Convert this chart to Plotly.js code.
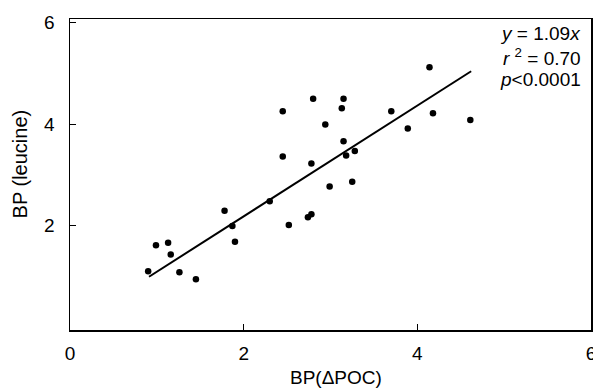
<!DOCTYPE html>
<html>
<head>
<meta charset="utf-8">
<script src="https://cdn.plot.ly/plotly-3.0.1.min.js"></script>
<style>html,body{margin:0;padding:0;background:#fff}#chart{width:593px;height:390px}</style>
</head>
<body>
<div id="chart"></div>
<script>
// BP(ΔPOC) values (x) and BP(leucine) values (y)
const bpPOC = [0.90, 0.99, 1.13, 1.16, 1.26, 1.45, 1.78, 1.87, 1.90, 2.30, 2.45, 2.45, 2.52, 2.74, 2.78, 2.78, 2.80, 2.94, 2.99, 3.13, 3.15, 3.15, 3.18, 3.25, 3.28, 3.70, 3.89, 4.14, 4.18, 4.61];
const bpLeucine = [1.10, 1.61, 1.66, 1.43, 1.08, 0.94, 2.29, 1.99, 1.68, 2.48, 4.25, 3.36, 2.01, 2.16, 2.22, 3.22, 4.50, 3.99, 2.77, 4.31, 4.50, 3.66, 3.38, 2.86, 3.47, 4.25, 3.91, 5.12, 4.21, 4.08];
// Regression line y = 1.09x, endpoints as drawn
const fitX = [0.91, 4.62];
const fitY = [0.99, 5.04];
const xTicks = [0, 2, 4, 6];
const yTicks = [2, 4, 6];
const xTitle = "BP(ΔPOC)";
const yTitle = "BP (leucine)";
const statsLines = ["<i>y</i> = 1.09<i>x</i>", "<i>r</i> <sup>2</sup> = 0.70", "<i>p</i>&lt;0.0001"];

const FONT = "Liberation Sans, Arial, Helvetica, sans-serif";

const traces = [
  {x: bpPOC, y: bpLeucine, mode: "markers", type: "scatter",
   marker: {color: "#000", size: 6.5}, showlegend: false, hoverinfo: "x+y"},
  {x: fitX, y: fitY, mode: "lines", type: "scatter",
   line: {color: "#000", width: 2}, showlegend: false, hoverinfo: "skip"}
];

const statY = [0.952, 0.878, 0.804];
const annotations = statsLines.map((t, i) => ({
  xref: "paper", yref: "paper", x: 0.985, y: statY[i],
  xanchor: "right", yanchor: "middle", align: "right",
  showarrow: false, text: t,
  font: {size: 19, family: FONT, color: "#000"}
}));
annotations.push({
  xref: "paper", yref: "paper", x: 0.5106, y: -0.193,
  xanchor: "center", yanchor: "bottom", showarrow: false, text: xTitle,
  font: {size: 19, family: FONT, color: "#000"}
});
annotations.push({
  xref: "paper", yref: "paper", x: -0.097, y: 0.534, textangle: -90,
  xanchor: "center", yanchor: "middle", showarrow: false, text: yTitle,
  font: {size: 20, family: FONT, color: "#000"}
});

const layout = {
  width: 593, height: 390,
  margin: {l: 70, r: 2, t: 19, b: 60, pad: 0},
  paper_bgcolor: "#fff", plot_bgcolor: "#fff",
  font: {family: FONT, color: "#000", size: 17},
  xaxis: {
    range: [0, 6], tickvals: xTicks, ticktext: xTicks.map(String),
    ticks: "inside", ticklen: 6, tickwidth: 1, tickcolor: "#000",
    showline: true, linecolor: "#000", linewidth: 1.5, mirror: true,
    showgrid: false, zeroline: false, ticklabeloverflow: "allow",
    tickfont: {size: 19, family: FONT}, ticklabelstandoff: 6
  },
  yaxis: {
    range: [-0.06, 6.07], tickvals: yTicks, ticktext: yTicks.map(String),
    ticks: "inside", ticklen: 6, tickwidth: 1, tickcolor: "#000",
    showline: true, linecolor: "#000", linewidth: 1.5, mirror: true,
    showgrid: false, zeroline: false, ticklabeloverflow: "allow",
    tickfont: {size: 19, family: FONT}, ticklabelstandoff: 10
  },
  annotations: annotations
};

Plotly.newPlot("chart", traces, layout, {displayModeBar: false, staticPlot: true});
</script>
</body>
</html>
